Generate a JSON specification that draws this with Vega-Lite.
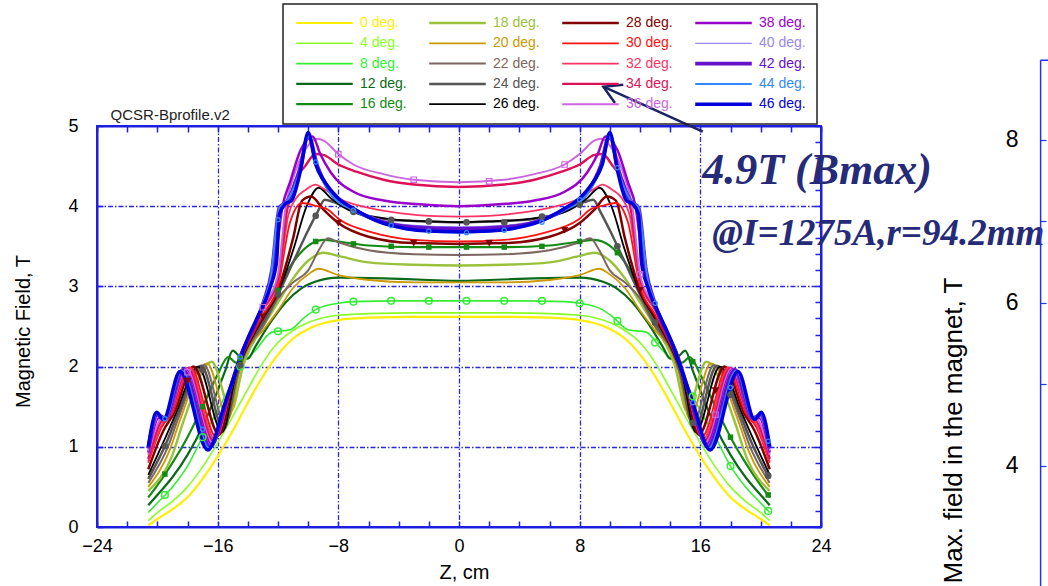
{
"$schema": "https://vega.github.io/schema/vega-lite/v6.json",
"width": 724, "height": 401,
"autosize": {"type": "none"},
"padding": {"left": 97, "top": 126, "right": 227, "bottom": 59},
"background": "white",
"config": {"view": {"stroke": "#1f1fe0", "strokeWidth": 2}, "axis": {"labelFont": "Liberation Sans", "titleFont": "Liberation Sans"}},
"datasets": {
"lines": [
{"a":0,"z":-20.6,"b":0.02},{"a":0,"z":-20,"b":0.1},{"a":0,"z":-19,"b":0.22},{"a":0,"z":-18,"b":0.37},{"a":0,"z":-17,"b":0.6},{"a":0,"z":-16,"b":0.88},{"a":0,"z":-15,"b":1.2},{"a":0,"z":-14,"b":1.55},{"a":0,"z":-13,"b":1.88},{"a":0,"z":-12,"b":2.15},{"a":0,"z":-11,"b":2.35},{"a":0,"z":-10,"b":2.47},{"a":0,"z":-9,"b":2.54},{"a":0,"z":-8,"b":2.58},{"a":0,"z":-6,"b":2.61},{"a":0,"z":-3,"b":2.62},{"a":0,"z":0,"b":2.62},{"a":0,"z":3,"b":2.62},{"a":0,"z":6,"b":2.61},{"a":0,"z":8,"b":2.58},{"a":0,"z":9,"b":2.54},{"a":0,"z":10,"b":2.47},{"a":0,"z":11,"b":2.35},{"a":0,"z":12,"b":2.15},{"a":0,"z":13,"b":1.88},{"a":0,"z":14,"b":1.55},{"a":0,"z":15,"b":1.2},{"a":0,"z":16,"b":0.88},{"a":0,"z":17,"b":0.6},{"a":0,"z":18,"b":0.37},{"a":0,"z":19,"b":0.22},{"a":0,"z":20,"b":0.1},{"a":0,"z":20.6,"b":0.02},
{"a":4,"z":-20.6,"b":0.08},{"a":4,"z":-20,"b":0.18},{"a":4,"z":-19,"b":0.32},{"a":4,"z":-18,"b":0.5},{"a":4,"z":-17,"b":0.75},{"a":4,"z":-16,"b":1.05},{"a":4,"z":-15,"b":1.38},{"a":4,"z":-14,"b":1.72},{"a":4,"z":-13,"b":2.05},{"a":4,"z":-12,"b":2.3},{"a":4,"z":-11,"b":2.45},{"a":4,"z":-10,"b":2.55},{"a":4,"z":-9,"b":2.61},{"a":4,"z":-8,"b":2.64},{"a":4,"z":-6,"b":2.66},{"a":4,"z":-3,"b":2.67},{"a":4,"z":0,"b":2.67},{"a":4,"z":3,"b":2.67},{"a":4,"z":6,"b":2.66},{"a":4,"z":8,"b":2.64},{"a":4,"z":9,"b":2.61},{"a":4,"z":10,"b":2.55},{"a":4,"z":11,"b":2.45},{"a":4,"z":12,"b":2.3},{"a":4,"z":13,"b":2.05},{"a":4,"z":14,"b":1.72},{"a":4,"z":15,"b":1.38},{"a":4,"z":16,"b":1.05},{"a":4,"z":17,"b":0.75},{"a":4,"z":18,"b":0.5},{"a":4,"z":19,"b":0.32},{"a":4,"z":20,"b":0.18},{"a":4,"z":20.6,"b":0.08},
{"a":8,"z":-20.6,"b":0.18},{"a":8,"z":-20,"b":0.3},{"a":8,"z":-19,"b":0.5},{"a":8,"z":-18,"b":0.76},{"a":8,"z":-17,"b":1.12},{"a":8,"z":-16,"b":1.45},{"a":8,"z":-15,"b":1.82},{"a":8,"z":-14.5,"b":2.0},{"a":8,"z":-13.5,"b":2.2},{"a":8,"z":-12.4,"b":2.43},{"a":8,"z":-11.2,"b":2.46},{"a":8,"z":-10.2,"b":2.62},{"a":8,"z":-9.4,"b":2.72},{"a":8,"z":-8,"b":2.79},{"a":8,"z":-7,"b":2.81},{"a":8,"z":-4,"b":2.82},{"a":8,"z":0,"b":2.82},{"a":8,"z":4,"b":2.82},{"a":8,"z":7,"b":2.81},{"a":8,"z":8,"b":2.79},{"a":8,"z":9.4,"b":2.72},{"a":8,"z":10.2,"b":2.62},{"a":8,"z":11.2,"b":2.46},{"a":8,"z":12.4,"b":2.43},{"a":8,"z":13.5,"b":2.2},{"a":8,"z":14.5,"b":2.0},{"a":8,"z":15,"b":1.82},{"a":8,"z":16,"b":1.45},{"a":8,"z":17,"b":1.12},{"a":8,"z":18,"b":0.76},{"a":8,"z":19,"b":0.5},{"a":8,"z":20,"b":0.3},{"a":8,"z":20.6,"b":0.18},
{"a":12,"z":-20.6,"b":0.27},{"a":12,"z":-20,"b":0.4},{"a":12,"z":-19,"b":0.62},{"a":12,"z":-18,"b":0.9},{"a":12,"z":-17,"b":1.25},{"a":12,"z":-16,"b":1.7},{"a":12,"z":-15.5,"b":1.95},{"a":12,"z":-15,"b":2.2},{"a":12,"z":-14.5,"b":2.12},{"a":12,"z":-14,"b":2.1},{"a":12,"z":-13.5,"b":2.25},{"a":12,"z":-12.5,"b":2.55},{"a":12,"z":-11.5,"b":2.8},{"a":12,"z":-10.5,"b":2.97},{"a":12,"z":-9.5,"b":3.06},{"a":12,"z":-8,"b":3.11},{"a":12,"z":-5,"b":3.1},{"a":12,"z":-2,"b":3.08},{"a":12,"z":0,"b":3.07},{"a":12,"z":2,"b":3.08},{"a":12,"z":5,"b":3.1},{"a":12,"z":8,"b":3.11},{"a":12,"z":9.5,"b":3.06},{"a":12,"z":10.5,"b":2.97},{"a":12,"z":11.5,"b":2.8},{"a":12,"z":12.5,"b":2.55},{"a":12,"z":13.5,"b":2.25},{"a":12,"z":14,"b":2.1},{"a":12,"z":14.5,"b":2.12},{"a":12,"z":15,"b":2.2},{"a":12,"z":15.5,"b":1.95},{"a":12,"z":16,"b":1.7},{"a":12,"z":17,"b":1.25},{"a":12,"z":18,"b":0.9},{"a":12,"z":19,"b":0.62},{"a":12,"z":20,"b":0.4},{"a":12,"z":20.6,"b":0.27},
{"a":16,"z":-20.6,"b":0.37},{"a":16,"z":-20,"b":0.52},{"a":16,"z":-19,"b":0.8},{"a":16,"z":-18,"b":1.12},{"a":16,"z":-17,"b":1.5},{"a":16,"z":-16,"b":1.9},{"a":16,"z":-15.3,"b":2.12},{"a":16,"z":-14.8,"b":2.05},{"a":16,"z":-14.2,"b":2.15},{"a":16,"z":-13.5,"b":2.35},{"a":16,"z":-12.5,"b":2.75},{"a":16,"z":-11.5,"b":3.15},{"a":16,"z":-10.5,"b":3.42},{"a":16,"z":-9.5,"b":3.56},{"a":16,"z":-9,"b":3.58},{"a":16,"z":-8,"b":3.56},{"a":16,"z":-6,"b":3.51},{"a":16,"z":-3,"b":3.49},{"a":16,"z":0,"b":3.49},{"a":16,"z":3,"b":3.49},{"a":16,"z":6,"b":3.51},{"a":16,"z":8,"b":3.56},{"a":16,"z":9,"b":3.58},{"a":16,"z":9.5,"b":3.56},{"a":16,"z":10.5,"b":3.42},{"a":16,"z":11.5,"b":3.15},{"a":16,"z":12.5,"b":2.75},{"a":16,"z":13.5,"b":2.35},{"a":16,"z":14.2,"b":2.15},{"a":16,"z":14.8,"b":2.05},{"a":16,"z":15.3,"b":2.12},{"a":16,"z":16,"b":1.9},{"a":16,"z":17,"b":1.5},{"a":16,"z":18,"b":1.12},{"a":16,"z":19,"b":0.8},{"a":16,"z":20,"b":0.52},{"a":16,"z":20.6,"b":0.37},
{"a":18,"z":-20.6,"b":0.45},{"a":18,"z":-19,"b":0.9},{"a":18,"z":-18.3,"b":1.3},{"a":18,"z":-16.4,"b":2.06},{"a":18,"z":-15.1,"b":1.45},{"a":18,"z":-14.3,"b":2.02},{"a":18,"z":-13.8,"b":2.25},{"a":18,"z":-13,"b":2.5},{"a":18,"z":-12,"b":2.8},{"a":18,"z":-11,"b":3.1},{"a":18,"z":-10,"b":3.32},{"a":18,"z":-9,"b":3.42},{"a":18,"z":-8,"b":3.38},{"a":18,"z":-6,"b":3.3},{"a":18,"z":-3,"b":3.27},{"a":18,"z":0,"b":3.26},{"a":18,"z":3,"b":3.27},{"a":18,"z":6,"b":3.3},{"a":18,"z":8,"b":3.38},{"a":18,"z":9,"b":3.42},{"a":18,"z":10,"b":3.32},{"a":18,"z":11,"b":3.1},{"a":18,"z":12,"b":2.8},{"a":18,"z":13,"b":2.5},{"a":18,"z":13.8,"b":2.25},{"a":18,"z":14.3,"b":2.02},{"a":18,"z":15.1,"b":1.45},{"a":18,"z":16.4,"b":2.06},{"a":18,"z":18.3,"b":1.3},{"a":18,"z":19,"b":0.9},{"a":18,"z":20.6,"b":0.45},
{"a":20,"z":-20.6,"b":0.5},{"a":20,"z":-19.2,"b":0.95},{"a":20,"z":-18.5,"b":1.33},{"a":20,"z":-16.7,"b":2.04},{"a":20,"z":-15.3,"b":1.35},{"a":20,"z":-14.5,"b":1.98},{"a":20,"z":-14,"b":2.22},{"a":20,"z":-13,"b":2.45},{"a":20,"z":-12,"b":2.7},{"a":20,"z":-11,"b":2.98},{"a":20,"z":-10,"b":3.15},{"a":20,"z":-9.3,"b":3.22},{"a":20,"z":-8,"b":3.14},{"a":20,"z":-6,"b":3.08},{"a":20,"z":-3,"b":3.05},{"a":20,"z":0,"b":3.05},{"a":20,"z":3,"b":3.05},{"a":20,"z":6,"b":3.08},{"a":20,"z":8,"b":3.14},{"a":20,"z":9.3,"b":3.22},{"a":20,"z":10,"b":3.15},{"a":20,"z":11,"b":2.98},{"a":20,"z":12,"b":2.7},{"a":20,"z":13,"b":2.45},{"a":20,"z":14,"b":2.22},{"a":20,"z":14.5,"b":1.98},{"a":20,"z":15.3,"b":1.35},{"a":20,"z":16.7,"b":2.04},{"a":20,"z":18.5,"b":1.33},{"a":20,"z":19.2,"b":0.95},{"a":20,"z":20.6,"b":0.5},
{"a":22,"z":-20.6,"b":0.55},{"a":22,"z":-19.3,"b":1.0},{"a":22,"z":-18.6,"b":1.36},{"a":22,"z":-16.9,"b":2.02},{"a":22,"z":-15.5,"b":1.28},{"a":22,"z":-14.6,"b":1.95},{"a":22,"z":-14.1,"b":2.2},{"a":22,"z":-13,"b":2.5},{"a":22,"z":-12,"b":2.85},{"a":22,"z":-11,"b":3.05},{"a":22,"z":-10,"b":3.2},{"a":22,"z":-9.3,"b":3.45},{"a":22,"z":-8.7,"b":3.6},{"a":22,"z":-8,"b":3.55},{"a":22,"z":-6,"b":3.45},{"a":22,"z":-3,"b":3.4},{"a":22,"z":0,"b":3.39},{"a":22,"z":3,"b":3.4},{"a":22,"z":6,"b":3.45},{"a":22,"z":8,"b":3.55},{"a":22,"z":8.7,"b":3.6},{"a":22,"z":9.3,"b":3.45},{"a":22,"z":10,"b":3.2},{"a":22,"z":11,"b":3.05},{"a":22,"z":12,"b":2.85},{"a":22,"z":13,"b":2.5},{"a":22,"z":14.1,"b":2.2},{"a":22,"z":14.6,"b":1.95},{"a":22,"z":15.5,"b":1.28},{"a":22,"z":16.9,"b":2.02},{"a":22,"z":18.6,"b":1.36},{"a":22,"z":19.3,"b":1.0},{"a":22,"z":20.6,"b":0.55},
{"a":24,"z":-20.6,"b":0.6},{"a":24,"z":-19.4,"b":1.05},{"a":24,"z":-18.7,"b":1.38},{"a":24,"z":-17.1,"b":2.01},{"a":24,"z":-15.6,"b":1.22},{"a":24,"z":-14.7,"b":1.92},{"a":24,"z":-14.2,"b":2.18},{"a":24,"z":-13,"b":2.55},{"a":24,"z":-12,"b":2.9},{"a":24,"z":-11,"b":3.3},{"a":24,"z":-10,"b":3.7},{"a":24,"z":-9.4,"b":3.92},{"a":24,"z":-8.9,"b":4.08},{"a":24,"z":-8.3,"b":4.05},{"a":24,"z":-7,"b":3.93},{"a":24,"z":-4.5,"b":3.83},{"a":24,"z":-2,"b":3.81},{"a":24,"z":0,"b":3.8},{"a":24,"z":2,"b":3.81},{"a":24,"z":4.5,"b":3.83},{"a":24,"z":7,"b":3.93},{"a":24,"z":8.3,"b":4.05},{"a":24,"z":8.9,"b":4.08},{"a":24,"z":9.4,"b":3.92},{"a":24,"z":10,"b":3.7},{"a":24,"z":11,"b":3.3},{"a":24,"z":12,"b":2.9},{"a":24,"z":13,"b":2.55},{"a":24,"z":14.2,"b":2.18},{"a":24,"z":14.7,"b":1.92},{"a":24,"z":15.6,"b":1.22},{"a":24,"z":17.1,"b":2.01},{"a":24,"z":18.7,"b":1.38},{"a":24,"z":19.4,"b":1.05},{"a":24,"z":20.6,"b":0.6},
{"a":26,"z":-20.6,"b":0.65},{"a":26,"z":-19.5,"b":1.1},{"a":26,"z":-18.8,"b":1.4},{"a":26,"z":-17.3,"b":2.0},{"a":26,"z":-15.7,"b":1.18},{"a":26,"z":-14.8,"b":1.9},{"a":26,"z":-14.2,"b":2.18},{"a":26,"z":-13,"b":2.6},{"a":26,"z":-12,"b":2.92},{"a":26,"z":-11,"b":3.45},{"a":26,"z":-10.1,"b":4.0},{"a":26,"z":-9.3,"b":4.23},{"a":26,"z":-8.5,"b":4.1},{"a":26,"z":-7,"b":3.93},{"a":26,"z":-4.5,"b":3.84},{"a":26,"z":-2,"b":3.81},{"a":26,"z":0,"b":3.8},{"a":26,"z":2,"b":3.81},{"a":26,"z":4.5,"b":3.84},{"a":26,"z":7,"b":3.93},{"a":26,"z":8.5,"b":4.1},{"a":26,"z":9.3,"b":4.23},{"a":26,"z":10.1,"b":4.0},{"a":26,"z":11,"b":3.45},{"a":26,"z":12,"b":2.92},{"a":26,"z":13,"b":2.6},{"a":26,"z":14.2,"b":2.18},{"a":26,"z":14.8,"b":1.9},{"a":26,"z":15.7,"b":1.18},{"a":26,"z":17.3,"b":2.0},{"a":26,"z":18.8,"b":1.4},{"a":26,"z":19.5,"b":1.1},{"a":26,"z":20.6,"b":0.65},
{"a":28,"z":-20.6,"b":0.72},{"a":28,"z":-19.6,"b":1.2},{"a":28,"z":-18.9,"b":1.42},{"a":28,"z":-17.6,"b":2.0},{"a":28,"z":-15.9,"b":1.15},{"a":28,"z":-14.9,"b":1.88},{"a":28,"z":-14.3,"b":2.16},{"a":28,"z":-13,"b":2.62},{"a":28,"z":-12,"b":2.95},{"a":28,"z":-11,"b":3.6},{"a":28,"z":-10.4,"b":4.07},{"a":28,"z":-9.8,"b":4.12},{"a":28,"z":-9,"b":3.96},{"a":28,"z":-8,"b":3.79},{"a":28,"z":-6,"b":3.62},{"a":28,"z":-3,"b":3.54},{"a":28,"z":0,"b":3.53},{"a":28,"z":3,"b":3.54},{"a":28,"z":6,"b":3.62},{"a":28,"z":8,"b":3.79},{"a":28,"z":9,"b":3.96},{"a":28,"z":9.8,"b":4.12},{"a":28,"z":10.4,"b":4.07},{"a":28,"z":11,"b":3.6},{"a":28,"z":12,"b":2.95},{"a":28,"z":13,"b":2.62},{"a":28,"z":14.3,"b":2.16},{"a":28,"z":14.9,"b":1.88},{"a":28,"z":15.9,"b":1.15},{"a":28,"z":17.6,"b":2.0},{"a":28,"z":18.9,"b":1.42},{"a":28,"z":19.6,"b":1.2},{"a":28,"z":20.6,"b":0.72},
{"a":30,"z":-20.6,"b":0.8},{"a":30,"z":-19.7,"b":1.25},{"a":30,"z":-19,"b":1.42},{"a":30,"z":-17.8,"b":1.99},{"a":30,"z":-16.1,"b":1.12},{"a":30,"z":-15,"b":1.82},{"a":30,"z":-14.3,"b":2.16},{"a":30,"z":-13,"b":2.65},{"a":30,"z":-12,"b":3.0},{"a":30,"z":-11.2,"b":3.8},{"a":30,"z":-10.4,"b":4.04},{"a":30,"z":-9.4,"b":4.0},{"a":30,"z":-8.8,"b":3.97},{"a":30,"z":-7.9,"b":3.83},{"a":30,"z":-5.7,"b":3.67},{"a":30,"z":-3,"b":3.58},{"a":30,"z":0,"b":3.56},{"a":30,"z":3,"b":3.58},{"a":30,"z":5.7,"b":3.67},{"a":30,"z":7.9,"b":3.83},{"a":30,"z":8.8,"b":3.97},{"a":30,"z":9.4,"b":4.0},{"a":30,"z":10.4,"b":4.04},{"a":30,"z":11.2,"b":3.8},{"a":30,"z":12,"b":3.0},{"a":30,"z":13,"b":2.65},{"a":30,"z":14.3,"b":2.16},{"a":30,"z":15,"b":1.82},{"a":30,"z":16.1,"b":1.12},{"a":30,"z":17.8,"b":1.99},{"a":30,"z":19,"b":1.42},{"a":30,"z":19.7,"b":1.25},{"a":30,"z":20.6,"b":0.8},
{"a":32,"z":-20.6,"b":0.82},{"a":32,"z":-19.7,"b":1.28},{"a":32,"z":-19.1,"b":1.42},{"a":32,"z":-17.9,"b":1.99},{"a":32,"z":-16.2,"b":1.1},{"a":32,"z":-15,"b":1.8},{"a":32,"z":-14.4,"b":2.15},{"a":32,"z":-13,"b":2.7},{"a":32,"z":-12,"b":3.05},{"a":32,"z":-11.3,"b":3.9},{"a":32,"z":-10.8,"b":4.1},{"a":32,"z":-10.2,"b":4.2},{"a":32,"z":-9.5,"b":4.27},{"a":32,"z":-9,"b":4.22},{"a":32,"z":-8,"b":4.1},{"a":32,"z":-6,"b":3.98},{"a":32,"z":-4.5,"b":3.93},{"a":32,"z":-2,"b":3.88},{"a":32,"z":0,"b":3.87},{"a":32,"z":2,"b":3.88},{"a":32,"z":4.5,"b":3.93},{"a":32,"z":6,"b":3.98},{"a":32,"z":8,"b":4.1},{"a":32,"z":9,"b":4.22},{"a":32,"z":9.5,"b":4.27},{"a":32,"z":10.2,"b":4.2},{"a":32,"z":10.8,"b":4.1},{"a":32,"z":11.3,"b":3.9},{"a":32,"z":12,"b":3.05},{"a":32,"z":13,"b":2.7},{"a":32,"z":14.4,"b":2.15},{"a":32,"z":15,"b":1.8},{"a":32,"z":16.2,"b":1.1},{"a":32,"z":17.9,"b":1.99},{"a":32,"z":19.1,"b":1.42},{"a":32,"z":19.7,"b":1.28},{"a":32,"z":20.6,"b":0.82},
{"a":34,"z":-20.6,"b":0.85},{"a":34,"z":-19.8,"b":1.3},{"a":34,"z":-19.2,"b":1.4},{"a":34,"z":-18,"b":1.98},{"a":34,"z":-16.3,"b":1.08},{"a":34,"z":-15.1,"b":1.75},{"a":34,"z":-14.4,"b":2.15},{"a":34,"z":-13,"b":2.72},{"a":34,"z":-12,"b":3.1},{"a":34,"z":-11.4,"b":3.95},{"a":34,"z":-10.9,"b":4.3},{"a":34,"z":-10.2,"b":4.5},{"a":34,"z":-9.5,"b":4.65},{"a":34,"z":-9,"b":4.64},{"a":34,"z":-8,"b":4.52},{"a":34,"z":-6.8,"b":4.43},{"a":34,"z":-5,"b":4.33},{"a":34,"z":-3,"b":4.27},{"a":34,"z":0,"b":4.24},{"a":34,"z":3,"b":4.27},{"a":34,"z":5,"b":4.33},{"a":34,"z":6.8,"b":4.43},{"a":34,"z":8,"b":4.52},{"a":34,"z":9,"b":4.64},{"a":34,"z":9.5,"b":4.65},{"a":34,"z":10.2,"b":4.5},{"a":34,"z":10.9,"b":4.3},{"a":34,"z":11.4,"b":3.95},{"a":34,"z":12,"b":3.1},{"a":34,"z":13,"b":2.72},{"a":34,"z":14.4,"b":2.15},{"a":34,"z":15.1,"b":1.75},{"a":34,"z":16.3,"b":1.08},{"a":34,"z":18,"b":1.98},{"a":34,"z":19.2,"b":1.4},{"a":34,"z":19.8,"b":1.3},{"a":34,"z":20.6,"b":0.85},
{"a":36,"z":-20.6,"b":0.9},{"a":36,"z":-19.8,"b":1.34},{"a":36,"z":-19.3,"b":1.38},{"a":36,"z":-18.1,"b":1.98},{"a":36,"z":-16.35,"b":1.05},{"a":36,"z":-15.2,"b":1.72},{"a":36,"z":-14.4,"b":2.15},{"a":36,"z":-13,"b":2.74},{"a":36,"z":-12,"b":3.15},{"a":36,"z":-11.5,"b":3.98},{"a":36,"z":-11,"b":4.35},{"a":36,"z":-10.2,"b":4.7},{"a":36,"z":-9.4,"b":4.84},{"a":36,"z":-9,"b":4.82},{"a":36,"z":-8,"b":4.65},{"a":36,"z":-7,"b":4.52},{"a":36,"z":-5,"b":4.4},{"a":36,"z":-3,"b":4.33},{"a":36,"z":0,"b":4.3},{"a":36,"z":3,"b":4.33},{"a":36,"z":5,"b":4.4},{"a":36,"z":7,"b":4.52},{"a":36,"z":8,"b":4.65},{"a":36,"z":9,"b":4.82},{"a":36,"z":9.4,"b":4.84},{"a":36,"z":10.2,"b":4.7},{"a":36,"z":11,"b":4.35},{"a":36,"z":11.5,"b":3.98},{"a":36,"z":12,"b":3.15},{"a":36,"z":13,"b":2.74},{"a":36,"z":14.4,"b":2.15},{"a":36,"z":15.2,"b":1.72},{"a":36,"z":16.35,"b":1.05},{"a":36,"z":18.1,"b":1.98},{"a":36,"z":19.3,"b":1.38},{"a":36,"z":19.8,"b":1.34},{"a":36,"z":20.6,"b":0.9},
{"a":38,"z":-20.6,"b":0.93},{"a":38,"z":-19.9,"b":1.36},{"a":38,"z":-19.4,"b":1.36},{"a":38,"z":-18.2,"b":1.97},{"a":38,"z":-16.4,"b":1.03},{"a":38,"z":-15.2,"b":1.7},{"a":38,"z":-14.5,"b":2.13},{"a":38,"z":-13,"b":2.76},{"a":38,"z":-12.2,"b":3.3},{"a":38,"z":-11.7,"b":4.0},{"a":38,"z":-11.2,"b":4.3},{"a":38,"z":-10.5,"b":4.7},{"a":38,"z":-9.7,"b":4.87},{"a":38,"z":-9.2,"b":4.65},{"a":38,"z":-8.5,"b":4.42},{"a":38,"z":-7,"b":4.18},{"a":38,"z":-5,"b":4.07},{"a":38,"z":-2.4,"b":4.02},{"a":38,"z":0,"b":4.0},{"a":38,"z":2.4,"b":4.02},{"a":38,"z":5,"b":4.07},{"a":38,"z":7,"b":4.18},{"a":38,"z":8.5,"b":4.42},{"a":38,"z":9.2,"b":4.65},{"a":38,"z":9.7,"b":4.87},{"a":38,"z":10.5,"b":4.7},{"a":38,"z":11.2,"b":4.3},{"a":38,"z":11.7,"b":4.0},{"a":38,"z":12.2,"b":3.3},{"a":38,"z":13,"b":2.76},{"a":38,"z":14.5,"b":2.13},{"a":38,"z":15.2,"b":1.7},{"a":38,"z":16.4,"b":1.03},{"a":38,"z":18.2,"b":1.97},{"a":38,"z":19.4,"b":1.36},{"a":38,"z":19.9,"b":1.36},{"a":38,"z":20.6,"b":0.93},
{"a":40,"z":-20.6,"b":0.95},{"a":40,"z":-19.9,"b":1.38},{"a":40,"z":-19.4,"b":1.36},{"a":40,"z":-18.2,"b":1.97},{"a":40,"z":-16.45,"b":1.02},{"a":40,"z":-15.3,"b":1.66},{"a":40,"z":-14.5,"b":2.13},{"a":40,"z":-13,"b":2.78},{"a":40,"z":-12.3,"b":3.3},{"a":40,"z":-11.8,"b":4.0},{"a":40,"z":-11.3,"b":4.08},{"a":40,"z":-10.5,"b":4.5},{"a":40,"z":-9.9,"b":4.88},{"a":40,"z":-9.3,"b":4.5},{"a":40,"z":-8.5,"b":4.2},{"a":40,"z":-7,"b":3.98},{"a":40,"z":-5,"b":3.82},{"a":40,"z":-3,"b":3.76},{"a":40,"z":0,"b":3.74},{"a":40,"z":3,"b":3.76},{"a":40,"z":5,"b":3.82},{"a":40,"z":7,"b":3.98},{"a":40,"z":8.5,"b":4.2},{"a":40,"z":9.3,"b":4.5},{"a":40,"z":9.9,"b":4.88},{"a":40,"z":10.5,"b":4.5},{"a":40,"z":11.3,"b":4.08},{"a":40,"z":11.8,"b":4.0},{"a":40,"z":12.3,"b":3.3},{"a":40,"z":13,"b":2.78},{"a":40,"z":14.5,"b":2.13},{"a":40,"z":15.3,"b":1.66},{"a":40,"z":16.45,"b":1.02},{"a":40,"z":18.2,"b":1.97},{"a":40,"z":19.4,"b":1.36},{"a":40,"z":19.9,"b":1.38},{"a":40,"z":20.6,"b":0.95},
{"a":42,"z":-20.6,"b":0.98},{"a":42,"z":-20,"b":1.4},{"a":42,"z":-19.5,"b":1.36},{"a":42,"z":-18.3,"b":1.96},{"a":42,"z":-16.5,"b":1.0},{"a":42,"z":-15.3,"b":1.65},{"a":42,"z":-14.5,"b":2.12},{"a":42,"z":-13,"b":2.78},{"a":42,"z":-12.4,"b":3.2},{"a":42,"z":-11.9,"b":3.98},{"a":42,"z":-11.4,"b":4.06},{"a":42,"z":-10.5,"b":4.5},{"a":42,"z":-10,"b":4.88},{"a":42,"z":-9.4,"b":4.5},{"a":42,"z":-8.5,"b":4.17},{"a":42,"z":-7,"b":3.96},{"a":42,"z":-5,"b":3.8},{"a":42,"z":-3,"b":3.74},{"a":42,"z":0,"b":3.72},{"a":42,"z":3,"b":3.74},{"a":42,"z":5,"b":3.8},{"a":42,"z":7,"b":3.96},{"a":42,"z":8.5,"b":4.17},{"a":42,"z":9.4,"b":4.5},{"a":42,"z":10,"b":4.88},{"a":42,"z":10.5,"b":4.5},{"a":42,"z":11.4,"b":4.06},{"a":42,"z":11.9,"b":3.98},{"a":42,"z":12.4,"b":3.2},{"a":42,"z":13,"b":2.78},{"a":42,"z":14.5,"b":2.12},{"a":42,"z":15.3,"b":1.65},{"a":42,"z":16.5,"b":1.0},{"a":42,"z":18.3,"b":1.96},{"a":42,"z":19.5,"b":1.36},{"a":42,"z":20,"b":1.4},{"a":42,"z":20.6,"b":0.98},
{"a":44,"z":-20.6,"b":1.0},{"a":44,"z":-20,"b":1.42},{"a":44,"z":-19.5,"b":1.35},{"a":44,"z":-18.4,"b":1.95},{"a":44,"z":-16.55,"b":0.98},{"a":44,"z":-15.4,"b":1.6},{"a":44,"z":-14.5,"b":2.12},{"a":44,"z":-13,"b":2.79},{"a":44,"z":-12.5,"b":3.1},{"a":44,"z":-11.9,"b":3.98},{"a":44,"z":-11.4,"b":4.07},{"a":44,"z":-10.5,"b":4.48},{"a":44,"z":-10,"b":4.87},{"a":44,"z":-9.4,"b":4.48},{"a":44,"z":-8.5,"b":4.15},{"a":44,"z":-7,"b":3.95},{"a":44,"z":-5,"b":3.78},{"a":44,"z":-3,"b":3.7},{"a":44,"z":0,"b":3.67},{"a":44,"z":3,"b":3.7},{"a":44,"z":5,"b":3.78},{"a":44,"z":7,"b":3.95},{"a":44,"z":8.5,"b":4.15},{"a":44,"z":9.4,"b":4.48},{"a":44,"z":10,"b":4.87},{"a":44,"z":10.5,"b":4.48},{"a":44,"z":11.4,"b":4.07},{"a":44,"z":11.9,"b":3.98},{"a":44,"z":12.5,"b":3.1},{"a":44,"z":13,"b":2.79},{"a":44,"z":14.5,"b":2.12},{"a":44,"z":15.4,"b":1.6},{"a":44,"z":16.55,"b":0.98},{"a":44,"z":18.4,"b":1.95},{"a":44,"z":19.5,"b":1.35},{"a":44,"z":20,"b":1.42},{"a":44,"z":20.6,"b":1.0},
{"a":46,"z":-20.6,"b":1.0},{"a":46,"z":-20.05,"b":1.43},{"a":46,"z":-19.6,"b":1.34},{"a":46,"z":-18.5,"b":1.94},{"a":46,"z":-16.65,"b":0.96},{"a":46,"z":-15.5,"b":1.55},{"a":46,"z":-14.5,"b":2.1},{"a":46,"z":-14,"b":2.35},{"a":46,"z":-13.4,"b":2.6},{"a":46,"z":-12.5,"b":3.0},{"a":46,"z":-12.1,"b":3.3},{"a":46,"z":-11.9,"b":3.9},{"a":46,"z":-11.5,"b":4.03},{"a":46,"z":-11.1,"b":4.07},{"a":46,"z":-10.5,"b":4.45},{"a":46,"z":-10,"b":4.92},{"a":46,"z":-9.5,"b":4.52},{"a":46,"z":-9,"b":4.33},{"a":46,"z":-8.5,"b":4.2},{"a":46,"z":-8,"b":4.1},{"a":46,"z":-7,"b":3.97},{"a":46,"z":-5.5,"b":3.82},{"a":46,"z":-3.5,"b":3.72},{"a":46,"z":-2,"b":3.69},{"a":46,"z":0,"b":3.68},{"a":46,"z":2,"b":3.69},{"a":46,"z":3.5,"b":3.72},{"a":46,"z":5.5,"b":3.82},{"a":46,"z":7,"b":3.97},{"a":46,"z":8,"b":4.1},{"a":46,"z":8.5,"b":4.2},{"a":46,"z":9,"b":4.33},{"a":46,"z":9.5,"b":4.52},{"a":46,"z":10,"b":4.92},{"a":46,"z":10.5,"b":4.45},{"a":46,"z":11.1,"b":4.07},{"a":46,"z":11.5,"b":4.03},{"a":46,"z":11.9,"b":3.9},{"a":46,"z":12.1,"b":3.3},{"a":46,"z":12.5,"b":3.0},{"a":46,"z":13.4,"b":2.6},{"a":46,"z":14,"b":2.35},{"a":46,"z":14.5,"b":2.1},{"a":46,"z":15.5,"b":1.55},{"a":46,"z":16.65,"b":0.96},{"a":46,"z":18.5,"b":1.94},{"a":46,"z":19.6,"b":1.34},{"a":46,"z":20.05,"b":1.43},{"a":46,"z":20.6,"b":1.0}
],
"markers": [
{"a":8,"z":-19.5,"b":0.4},{"a":8,"z":-17,"b":1.12},{"a":8,"z":-14.5,"b":2.0},{"a":8,"z":-12,"b":2.44},{"a":8,"z":-9.5,"b":2.71},{"a":8,"z":-7,"b":2.81},{"a":8,"z":-4.5,"b":2.82},{"a":8,"z":-2,"b":2.82},{"a":8,"z":0.5,"b":2.82},{"a":8,"z":3,"b":2.82},{"a":8,"z":5.5,"b":2.82},{"a":8,"z":8,"b":2.79},{"a":8,"z":10.5,"b":2.57},{"a":8,"z":13,"b":2.3},{"a":8,"z":15.5,"b":1.63},{"a":8,"z":18,"b":0.76},{"a":8,"z":20.5,"b":0.2},
{"a":16,"z":-19.5,"b":0.66},{"a":16,"z":-17,"b":1.5},{"a":16,"z":-14.5,"b":2.1},{"a":16,"z":-12,"b":2.95},{"a":16,"z":-9.5,"b":3.56},{"a":16,"z":-7,"b":3.53},{"a":16,"z":-4.5,"b":3.5},{"a":16,"z":-2,"b":3.49},{"a":16,"z":0.5,"b":3.49},{"a":16,"z":3,"b":3.49},{"a":16,"z":5.5,"b":3.5},{"a":16,"z":8,"b":3.56},{"a":16,"z":10.5,"b":3.42},{"a":16,"z":13,"b":2.55},{"a":16,"z":15.5,"b":2.06},{"a":16,"z":18,"b":1.12},{"a":16,"z":20.5,"b":0.4},
{"a":24,"z":-19.5,"b":1.01},{"a":24,"z":-17,"b":1.96},{"a":24,"z":-14.5,"b":2.02},{"a":24,"z":-12,"b":2.9},{"a":24,"z":-9.5,"b":3.88},{"a":24,"z":-7,"b":3.93},{"a":24,"z":-4.5,"b":3.83},{"a":24,"z":-2,"b":3.81},{"a":24,"z":0.5,"b":3.8},{"a":24,"z":3,"b":3.8},{"a":24,"z":5.5,"b":3.87},{"a":24,"z":8,"b":4.02},{"a":24,"z":10.5,"b":3.5},{"a":24,"z":13,"b":2.55},{"a":24,"z":15.5,"b":1.3},{"a":24,"z":18,"b":1.65},{"a":24,"z":20.5,"b":0.64},
{"a":28,"z":-18,"b":1.82},{"a":28,"z":-13,"b":2.62},{"a":28,"z":-8,"b":3.79},{"a":28,"z":-3,"b":3.54},{"a":28,"z":2,"b":3.54},{"a":28,"z":7,"b":3.7},{"a":28,"z":12,"b":2.95},{"a":28,"z":17,"b":1.7},
{"a":36,"z":-18,"b":1.93},{"a":36,"z":-13,"b":2.74},{"a":36,"z":-8,"b":4.65},{"a":36,"z":-3,"b":4.33},{"a":36,"z":2,"b":4.31},{"a":36,"z":7,"b":4.52},{"a":36,"z":12,"b":3.15},{"a":36,"z":17,"b":1.4},
{"a":44,"z":-19.5,"b":1.35},{"a":44,"z":-17,"b":1.22},{"a":44,"z":-14.5,"b":2.12},{"a":44,"z":-12,"b":3.83},{"a":44,"z":-9.5,"b":4.55},{"a":44,"z":-7,"b":3.95},{"a":44,"z":-4.5,"b":3.76},{"a":44,"z":-2,"b":3.69},{"a":44,"z":0.5,"b":3.67},{"a":44,"z":3,"b":3.7},{"a":44,"z":5.5,"b":3.8},{"a":44,"z":8,"b":4.08},{"a":44,"z":10.5,"b":4.48},{"a":44,"z":13,"b":2.79},{"a":44,"z":15.5,"b":1.55},{"a":44,"z":18,"b":1.74},{"a":44,"z":20.5,"b":1.07}
]
},
"resolve": {"scale": {"y": "independent"}, "axis": {"x": "independent", "y": "independent"}},
"layer": [
{
"data": {"name": "lines"},
"mark": {"type": "line", "interpolate": "monotone"},
"encoding": {
"x": {"field": "z", "type": "quantitative", "scale": {"domain": [-24, 24], "nice": false, "zero": false},
 "axis": {"orient": "bottom", "tickCount": 24, "format": "d",
 "labelExpr": "datum.value % 8 == 0 ? datum.label : ''", "labelFontSize": 18, "labelColor": "#000000", "labelPadding": 16, "labelFlush": false, "labelOverlap": false,
 "tickSize": -6, "tickColor": "#1f1fe0", "tickWidth": 1.5, "domainColor": "#1f1fe0", "domainWidth": 2,
 "grid": true, "gridColor": "#2a2ae0", "gridDash": [5, 2, 1.5, 2], "gridWidth": 1.3,
 "gridOpacity": {"condition": {"test": "datum.value % 8 == 0 && abs(datum.value) < 24", "value": 1}, "value": 0},
 "title": "Z, cm", "titleFontSize": 20, "titleFontWeight": "normal", "titleColor": "#000000", "titleX": 367, "titleY": 45, "titleBaseline": "middle", "titleAlign": "center"}},
"y": {"field": "b", "type": "quantitative", "scale": {"domain": [0, 5], "nice": false},
 "axis": {"orient": "left", "tickCount": 25, "format": "d",
 "labelExpr": "abs(datum.value - round(datum.value)) < 0.001 ? datum.label : ''", "labelFontSize": 18, "labelColor": "#000000", "labelPadding": 25, "labelFlush": false, "labelOverlap": false,
 "tickSize": -6, "tickColor": "#1f1fe0", "tickWidth": 1.5, "domainColor": "#1f1fe0", "domainWidth": 2,
 "grid": true, "gridColor": "#2a2ae0", "gridDash": [5, 2, 1.5, 2], "gridWidth": 1.3,
 "gridOpacity": {"condition": {"test": "abs(datum.value - round(datum.value)) < 0.001 && datum.value > 0.5 && datum.value < 4.5", "value": 1}, "value": 0},
 "title": "Magnetic Field, T", "titleFontSize": 20, "titleFontWeight": "normal", "titleColor": "#000000", "titleX": -74, "titleY": 205, "titleAngle": 270, "titleBaseline": "middle", "titleAlign": "center"}},
"color": {"field": "a", "type": "nominal",
 "scale": {"domain": [0,4,8,12,16,18,20,22,24,26,28,30,32,34,36,38,40,42,44,46],
  "range": ["#FFEE00","#88FF22","#33EE33","#0A6A1A","#138A13","#99C23A","#CC9900","#7D6660","#555555","#000000","#800000","#FF1111","#FF3366","#DD1155","#CC66DD","#9900CC","#9988EE","#6611CC","#3388FF","#0000DD"]},
 "legend": {"orient": "none", "legendX": 186, "legendY": -122, "title": null, "columns": 4, "symbolType": "stroke", "symbolSize": 3200, "clipHeight": 16, "rowPadding": 4.3, "columnPadding": 20,
  "labelFontSize": 14, "labelFont": "Liberation Sans", "labelOffset": 5, "labelExpr": "datum.value + ' deg.'", "padding": 11, "strokeColor": "#222222",
  "encode": {"legend": {"update": {"strokeWidth": {"value": 1.5}}}, "labels": {"update": {"fill": {"scale": "color", "field": "value"}}}, "symbols": {"update": {"strokeWidth": {"scale": "strokeWidth", "field": "value"}}}}}},
"strokeWidth": {"field": "a", "type": "nominal",
 "scale": {"type": "ordinal", "domain": [0,4,8,12,16,18,20,22,24,26,28,30,32,34,36,38,40,42,44,46],
  "range": [2.2,1.6,1.6,2.2,2.2,2.4,1.8,2,2.5,1.8,2.5,1.8,1.8,2.4,2,2.5,1.2,3.8,2,3.5]}, "legend": null}
}
},
{
"data": {"name": "markers"}, "transform": [{"filter": "datum.a == 8"}],
"mark": {"type": "point", "shape": "circle", "filled": false, "size": 45, "strokeWidth": 1.5, "color": "#33EE33", "opacity": 1},
"encoding": {
"x": {"field": "z", "type": "quantitative", "axis": {"orient": "top", "tickCount": 24, "labels": false, "tickSize": -6, "tickColor": "#1f1fe0", "tickWidth": 1.5, "domainColor": "#1f1fe0", "domainWidth": 2, "grid": false, "title": null}},
"y": {"field": "b", "type": "quantitative", "scale": {"domain": [0, 5], "nice": false}, "axis": {"orient": "right", "tickCount": 25, "labels": false, "tickSize": -6, "tickColor": "#1f1fe0", "tickWidth": 1.5, "domainColor": "#1f1fe0", "domainWidth": 2, "grid": false, "title": null}}
}
},
{
"data": {"name": "markers"}, "transform": [{"filter": "datum.a == 16"}],
"mark": {"type": "point", "shape": "square", "filled": true, "size": 30, "color": "#138A13", "opacity": 1},
"encoding": {"x": {"field": "z", "type": "quantitative", "axis": null}, "y": {"field": "b", "type": "quantitative", "scale": {"domain": [0, 5], "nice": false}, "axis": null}}
},
{
"data": {"name": "markers"}, "transform": [{"filter": "datum.a == 24"}],
"mark": {"type": "point", "shape": "circle", "filled": true, "size": 45, "color": "#555555", "opacity": 1},
"encoding": {"x": {"field": "z", "type": "quantitative", "axis": null}, "y": {"field": "b", "type": "quantitative", "scale": {"domain": [0, 5], "nice": false}, "axis": null}}
},
{
"data": {"name": "markers"}, "transform": [{"filter": "datum.a == 28"}],
"mark": {"type": "point", "shape": "triangle-down", "filled": true, "size": 60, "color": "#800000", "opacity": 1},
"encoding": {"x": {"field": "z", "type": "quantitative", "axis": null}, "y": {"field": "b", "type": "quantitative", "scale": {"domain": [0, 5], "nice": false}, "axis": null}}
},
{
"data": {"name": "markers"}, "transform": [{"filter": "datum.a == 36"}],
"mark": {"type": "point", "shape": "square", "filled": false, "size": 30, "strokeWidth": 1.2, "color": "#CC66DD", "opacity": 1},
"encoding": {"x": {"field": "z", "type": "quantitative", "axis": null}, "y": {"field": "b", "type": "quantitative", "scale": {"domain": [0, 5], "nice": false}, "axis": null}}
},
{
"data": {"name": "markers"}, "transform": [{"filter": "datum.a == 44"}],
"mark": {"type": "point", "shape": "circle", "filled": false, "size": 18, "strokeWidth": 1.2, "color": "#3388FF", "opacity": 1},
"encoding": {"x": {"field": "z", "type": "quantitative", "axis": null}, "y": {"field": "b", "type": "quantitative", "scale": {"domain": [0, 5], "nice": false}, "axis": null}}
},
{
"data": {"values": [{"x1": 16.16, "y1": 4.93, "x2": 9.57, "y2": 5.49}]},
"mark": {"type": "rule", "color": "#1C2466", "strokeWidth": 2.5},
"encoding": {"x": {"field": "x1", "type": "quantitative", "axis": null}, "y": {"field": "y1", "type": "quantitative", "scale": {"domain": [0, 5], "nice": false}, "axis": null}, "x2": {"field": "x2"}, "y2": {"field": "y2"}}
},
{
"data": {"values": [{"x2": 9.57, "y2": 5.49}]},
"mark": {"type": "point", "shape": "M-1,-0.58L0,0L-1,0.58", "filled": false, "size": 1200, "angle": 204.4, "strokeWidth": 2.5, "color": "#1C2466", "opacity": 1},
"encoding": {"x": {"field": "x2", "type": "quantitative", "axis": null}, "y": {"field": "y2", "type": "quantitative", "scale": {"domain": [0, 5], "nice": false}, "axis": null}}
},
{
"data": {"values": [{"t": "QCSR-Bprofile.v2", "x": -23.1, "y": 5.07}]},
"mark": {"type": "text", "align": "left", "baseline": "alphabetic", "font": "Liberation Sans", "fontSize": 15, "color": "#222222"},
"encoding": {"x": {"field": "x", "type": "quantitative", "axis": null}, "y": {"field": "y", "type": "quantitative", "scale": {"domain": [0, 5], "nice": false}, "axis": null}, "text": {"field": "t"}}
},
{
"data": {"values": [{"t": "4.9T (Bmax)", "x": 16.12, "y": 4.28}]},
"mark": {"type": "text", "align": "left", "baseline": "alphabetic", "font": "Liberation Serif", "fontStyle": "italic", "fontWeight": "bold", "fontSize": 44, "color": "#262B78"},
"encoding": {"x": {"field": "x", "type": "quantitative", "axis": null}, "y": {"field": "y", "type": "quantitative", "scale": {"domain": [0, 5], "nice": false}, "axis": null}, "text": {"field": "t"}}
},
{
"data": {"values": [{"t": "@I=1275A,r=94.2mm", "x": 16.79, "y": 3.52}]},
"mark": {"type": "text", "align": "left", "baseline": "alphabetic", "font": "Liberation Serif", "fontStyle": "italic", "fontWeight": "bold", "fontSize": 37, "color": "#262B78"},
"encoding": {"x": {"field": "x", "type": "quantitative", "axis": null}, "y": {"field": "y", "type": "quantitative", "scale": {"domain": [0, 5], "nice": false}, "axis": null}, "text": {"field": "t"}}
},
{
"data": {"values": [{"x1": 38.56, "x2": 38.56, "v1": 2.4, "v2": 8.98}, {"x1": 38.56, "x2": 39.6, "v1": 8.98, "v2": 8.98}]},
"mark": {"type": "rule", "color": "#2233EE", "strokeWidth": 1.5},
"encoding": {
"x": {"field": "x1", "type": "quantitative", "axis": null}, "x2": {"field": "x2"},
"y": {"field": "v1", "type": "quantitative", "scale": {"domain": [3.245, 8.172], "nice": false, "zero": false},
 "axis": {"orient": "right", "offset": 219, "tickCount": 10, "format": "d", "labelExpr": "abs(datum.value % 2) < 0.001 ? datum.label : ''",
  "labelAlign": "right", "labelPadding": -28, "labelFontSize": 23, "labelColor": "#000000", "labelFlush": false, "labelOverlap": false, "labelBound": false,
  "tickSize": 6, "tickColor": "#2233EE", "tickWidth": 1.2, "domain": false, "grid": false,
  "title": "Max. field in the magnet, T", "titleFontSize": 26, "titleFontWeight": "normal", "titleColor": "#000000", "titleAngle": 270, "titleX": -87, "titleY": 304, "titleAlign": "center", "titleBaseline": "middle"}},
"y2": {"field": "v2"}
}
}
]
}
